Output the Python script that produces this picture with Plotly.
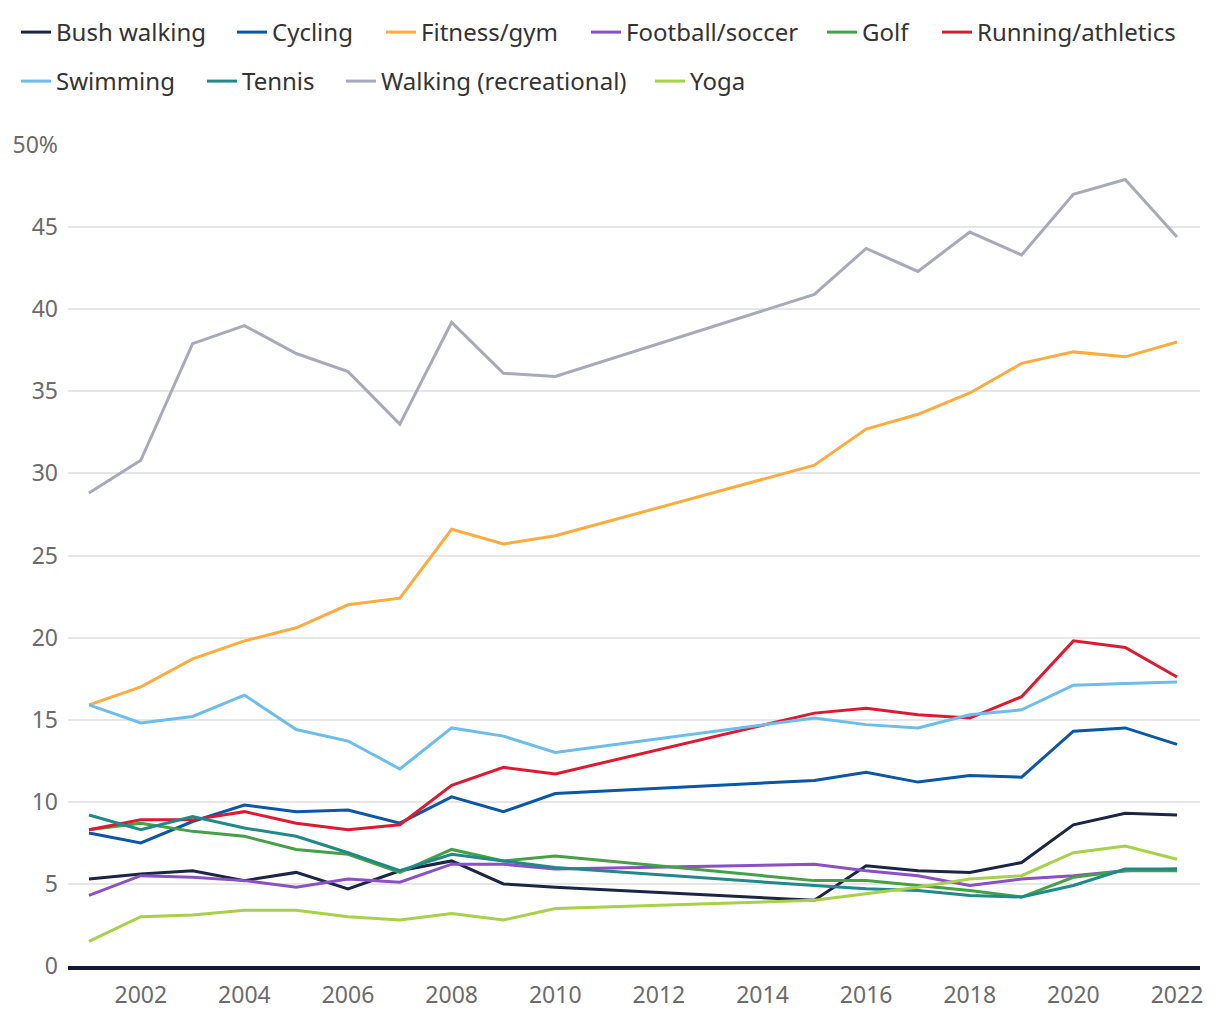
import plotly.graph_objects as go

years = [2001, 2002, 2003, 2004, 2005, 2006, 2007, 2008, 2009, 2010,
         2015, 2016, 2017, 2018, 2019, 2020, 2021, 2022]

bush_walking = [5.3, 5.6, 5.8, 5.2, 5.7, 4.7, 5.8, 6.4, 5.0, 4.8,
                4.0, 6.1, 5.8, 5.7, 6.3, 8.6, 9.3, 9.2]
cycling = [8.1, 7.5, 8.8, 9.8, 9.4, 9.5, 8.7, 10.3, 9.4, 10.5,
           11.3, 11.8, 11.2, 11.6, 11.5, 14.3, 14.5, 13.5]
fitness_gym = [15.9, 17.0, 18.7, 19.8, 20.6, 22.0, 22.4, 26.6, 25.7, 26.2,
               30.5, 32.7, 33.6, 34.9, 36.7, 37.4, 37.1, 38.0]
football_soccer = [4.3, 5.5, 5.4, 5.2, 4.8, 5.3, 5.1, 6.2, 6.2, 5.9,
                   6.2, 5.8, 5.5, 4.9, 5.3, 5.5, 5.8, 5.9]
golf = [8.3, 8.7, 8.2, 7.9, 7.1, 6.8, 5.7, 7.1, 6.4, 6.7,
        5.2, 5.2, 4.9, 4.6, 4.2, 5.4, 5.8, 5.8]
running_athletics = [8.3, 8.9, 8.9, 9.4, 8.7, 8.3, 8.6, 11.0, 12.1, 11.7,
                     15.4, 15.7, 15.3, 15.1, 16.4, 19.8, 19.4, 17.6]
swimming = [15.9, 14.8, 15.2, 16.5, 14.4, 13.7, 12.0, 14.5, 14.0, 13.0,
            15.1, 14.7, 14.5, 15.3, 15.6, 17.1, 17.2, 17.3]
tennis = [9.2, 8.3, 9.1, 8.4, 7.9, 6.9, 5.8, 6.8, 6.4, 6.0,
          4.9, 4.7, 4.6, 4.3, 4.2, 4.9, 5.9, 5.9]
walking_recreational = [28.8, 30.8, 37.9, 39.0, 37.3, 36.2, 33.0, 39.2, 36.1, 35.9,
                        40.9, 43.7, 42.3, 44.7, 43.3, 47.0, 47.9, 44.4]
yoga = [1.5, 3.0, 3.1, 3.4, 3.4, 3.0, 2.8, 3.2, 2.8, 3.5,
        4.0, 4.4, 4.8, 5.3, 5.5, 6.9, 7.3, 6.5]

series_names = ["Bush walking", "Cycling", "Fitness/gym", "Football/soccer", "Golf",
                "Running/athletics", "Swimming", "Tennis", "Walking (recreational)", "Yoga"]
series_values = [bush_walking, cycling, fitness_gym, football_soccer, golf,
                 running_athletics, swimming, tennis, walking_recreational, yoga]
colors = ["#1b2545", "#0b56a6", "#ffab40", "#8a50c4", "#45a046",
          "#dd1a32", "#6cbdea", "#21898a", "#a8aaba", "#a8d14a"]

y_tickvals = [0, 5, 10, 15, 20, 25, 30, 35, 40, 45, 50]
y_ticktext = ["0", "5", "10", "15", "20", "25", "30", "35", "40", "45", "50%"]
x_tickvals = [2002, 2004, 2006, 2008, 2010, 2012, 2014, 2016, 2018, 2020, 2022]

FONT = "Noto Sans"
W, H = 1220, 1020

# legend entry placement (pixels from the figure's top-left): one legend per entry
legend_x_px = [8, 224, 373, 578, 814, 929, 8, 194, 333, 642]
legend_y_px = [2, 2, 2, 2, 2, 2, 51, 51, 51, 51]

fig = go.Figure()
layout_legends = {}
for i, (name, vals, col) in enumerate(zip(series_names, series_values, colors)):
    key = "legend" if i == 0 else f"legend{i + 1}"
    fig.add_trace(go.Scatter(
        x=years, y=vals, name=name, mode="lines",
        line=dict(color=col, width=3),
        legend=key,
    ))
    layout_legends[key] = dict(
        orientation="h", xref="container", yref="container",
        xanchor="left", yanchor="top",
        x=legend_x_px[i] / W, y=1 - legend_y_px[i] / H,
        font=dict(family=FONT, size=24, color="#333333"),
        bgcolor="rgba(0,0,0,0)", itemwidth=30,
    )

fig.update_layout(
    width=W, height=H,
    margin=dict(l=60, r=28, t=137, b=62),
    paper_bgcolor="white", plot_bgcolor="white",
    font=dict(family=FONT, size=20, color="#666666"),
    showlegend=True,
    xaxis=dict(
        range=[2000.595, 2022.444], tickvals=x_tickvals,
        showgrid=False, zeroline=False, automargin=False,
        showline=True, linecolor="#0e1a38", linewidth=4,
        ticks="", tickfont=dict(family=FONT, size=23, color="#6b6b6b"),
        ticklabelstandoff=5,
    ),
    yaxis=dict(
        range=[0, 50], tickvals=y_tickvals, ticktext=y_ticktext,
        showgrid=True, gridcolor="#e6e6e6", gridwidth=1.5,
        zeroline=False, showline=False, ticks="", automargin=False,
        tickfont=dict(family=FONT, size=23, color="#6b6b6b"),
        ticklabelstandoff=9,
    ),
    **layout_legends,
)

fig.write_html("out.html")
